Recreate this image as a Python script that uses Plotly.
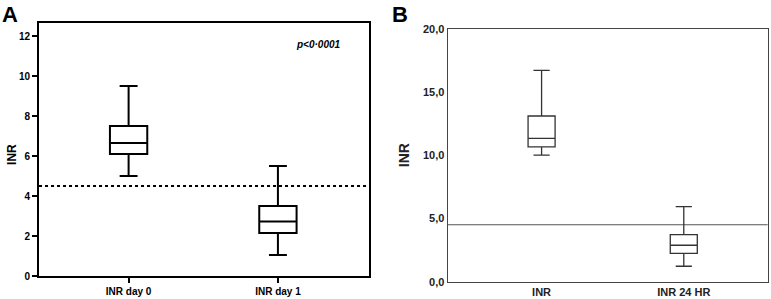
import plotly.graph_objects as go

# Panel A data
cats_a = ["INR day 0", "INR day 1"]
a_low = [5.0, 1.05]
a_q1 = [6.1, 2.15]
a_med = [6.65, 2.72]
a_q3 = [7.5, 3.5]
a_high = [9.5, 5.5]
a_threshold = 4.5
a_ticks = [0, 2, 4, 6, 8, 10, 12]

# Panel B data
cats_b = ["INR", "INR 24 HR"]
b_low = [10.0, 1.22]
b_q1 = [10.65, 2.24]
b_med = [11.33, 2.88]
b_q3 = [13.1, 3.72]
b_high = [16.7, 5.93]
b_threshold = 4.5
b_ticks = [0, 5, 10, 15, 20]
b_ticktext = ["0,0", "5,0", "10,0", "15,0", "20,0"]

fig = go.Figure()

fig.add_trace(go.Box(
    x=cats_a, q1=a_q1, median=a_med, q3=a_q3, lowerfence=a_low, upperfence=a_high,
    xaxis="x", yaxis="y", width=0.25, whiskerwidth=0.48,
    line=dict(color="black", width=2), fillcolor="white", boxpoints=False,
    showlegend=False, hoverinfo="skip"))
fig.add_trace(go.Box(
    x=cats_b, q1=b_q1, median=b_med, q3=b_q3, lowerfence=b_low, upperfence=b_high,
    xaxis="x2", yaxis="y2", width=0.19, whiskerwidth=0.6,
    line=dict(color="#333333", width=1.3), fillcolor="white", boxpoints=False,
    showlegend=False, hoverinfo="skip"))

fig.add_shape(type="line", xref="x domain", yref="y", x0=0, x1=1,
              y0=a_threshold, y1=a_threshold,
              line=dict(color="black", width=1.8, dash="dot"), layer="below")
fig.add_shape(type="line", xref="x2 domain", yref="y2", x0=0, x1=1,
              y0=b_threshold, y1=b_threshold,
              line=dict(color="#555555", width=1), layer="below")

tickfont_a = dict(family="Arial, Liberation Sans", size=10, color="black", weight="bold")
tickfont_b = dict(family="Arial, Liberation Sans", size=11, color="#222", weight="bold")

fig.update_layout(
    width=771, height=299, margin=dict(l=0, r=0, t=0, b=0, autoexpand=False),
    plot_bgcolor="white", paper_bgcolor="white",
    xaxis=dict(domain=[0.0506, 0.4786], anchor="y", range=[-0.6, 1.61], automargin=False,
               showline=True, linecolor="black", linewidth=2, mirror=True,
               ticks="outside", ticklen=5, tickwidth=2, tickcolor="black",
               tickfont=tickfont_a, showgrid=False, zeroline=False, fixedrange=True),
    yaxis=dict(domain=[0.0769, 0.923], anchor="x", range=[0, 12.65], automargin=False,
               tickvals=a_ticks, showline=True, linecolor="black", linewidth=2, mirror=True,
               ticks="outside", ticklen=5, tickwidth=2, tickcolor="black",
               tickfont=tickfont_a, showgrid=False, zeroline=False),
    xaxis2=dict(domain=[0.5807, 0.9957], anchor="y2", range=[-0.66, 1.59], automargin=False,
                showline=True, linecolor="#444", linewidth=1.2, mirror=True,
                ticks="", tickfont=tickfont_b, showgrid=False, zeroline=False),
    yaxis2=dict(domain=[0.0579, 0.904], anchor="x2", range=[0, 20], automargin=False,
                tickvals=b_ticks, ticktext=b_ticktext,
                showline=True, linecolor="#444", linewidth=1.2, mirror=True,
                ticks="", tickfont=tickfont_b, showgrid=False, zeroline=False,
                title=dict(text="INR", font=dict(family="Arial, Liberation Sans", size=14,
                                                 color="#222", weight="bold"), standoff=10)),
    annotations=[
        dict(text="A", x=0.0, y=1.0, xref="paper", yref="paper", xanchor="left",
             yanchor="top", showarrow=False,
             font=dict(family="Arial, Liberation Sans", size=22, color="black", weight="bold")),
        dict(text="B", x=0.506, y=1.0, xref="paper", yref="paper", xanchor="left",
             yanchor="top", showarrow=False,
             font=dict(family="Arial, Liberation Sans", size=22, color="black", weight="bold")),
        dict(text="INR", x=0.0156, y=0.482, xref="paper", yref="paper", textangle=-90,
             xanchor="center", yanchor="middle", showarrow=False,
             font=dict(family="Arial, Liberation Sans", size=12, color="black", weight="bold")),
        dict(text="<i>p<0·0001</i>", x=0.92, y=0.915, xref="x domain", yref="y domain",
             xanchor="right", yanchor="middle", showarrow=False,
             font=dict(family="Arial, Liberation Sans", size=10, color="black", weight="bold")),
    ],
)

fig.write_html("out.html", config={"displayModeBar": False},
               post_script="document.body.style.margin='0px';document.body.style.overflow='hidden';")
